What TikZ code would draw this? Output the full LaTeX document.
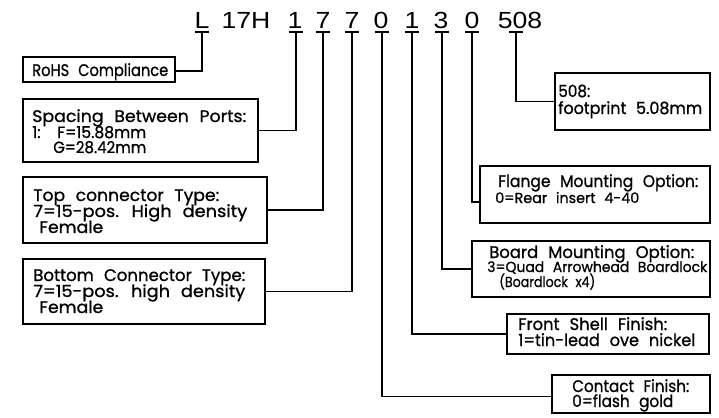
\documentclass[tikz,border=0pt]{standalone}
\usepackage{fontspec}
\usepackage{graphicx}
\setmainfont{Poppins}[WordSpace=2.3, FakeBold=0.9]
\newfontfamily\hdrfont{Liberation Sans}[FakeStretch=1.14]
\newcommand\fw[2]{\resizebox{\dimexpr 0.75pt*#1\relax}{\height}{#2}}
\begin{document}
\begin{tikzpicture}[x=0.75pt,y=-0.75pt,
  ln/.style={line width=1.6pt*0.75, line cap=rect},
  bx/.style={draw, line width=1.6pt*0.75, rectangle, inner sep=0pt, outer sep=0pt, anchor=north west},
  hd/.style={font=\hdrfont\fontsize{17.5pt}{20pt}\selectfont, anchor=base, inner sep=0pt},
  tx/.style={font=\fontsize{12.6pt}{15pt}\selectfont, anchor=base west, inner sep=0pt},
  md/.style={font=\fontsize{12.2pt}{14pt}\selectfont, anchor=base west, inner sep=0pt},
  sm/.style={font=\fontsize{10.9pt}{13pt}\selectfont, anchor=base west, inner sep=0pt}]
\useasboundingbox (0,0) rectangle (719,418);
% header
\node[hd] (hL) at (202,28) {L};
\node[hd] (h17) at (246,28) {17H};
\node[hd] (ha) at (295,28) {1};
\node[hd] (hb) at (323,28) {7};
\node[hd] (hc) at (352,28) {7};
\node[hd] (hd0) at (381,28) {0};
\node[hd] (he) at (412,28) {1};
\node[hd] (hf) at (441,28) {3};
\node[hd] (hg) at (472,28) {0};
\node[hd] (hh) at (520,28) {508};
% T tops
\coordinate (tL) at (202,32);
\coordinate (ta) at (296,32);
\coordinate (tb) at (323,32);
\coordinate (tc) at (352,32);
\coordinate (td) at (382,32);
\coordinate (te) at (412,32);
\coordinate (tf) at (442,32);
\coordinate (tg) at (472,32);
\coordinate (th) at (516,32);
\foreach \t in {tL,ta,tb,tc,td,te,tf,tg,th}{\draw[ln] ([xshift=-4.5pt]\t) -- ([xshift=4.5pt]\t);}
% boxes
\node[bx, minimum width=152*0.75pt, minimum height=25*0.75pt] (rohs) at (23,57) {};
\node[bx, minimum width=235*0.75pt, minimum height=63*0.75pt] (spacing) at (23,99) {};
\node[bx, minimum width=244*0.75pt, minimum height=66*0.75pt] (topc) at (23,177) {};
\node[bx, minimum width=242*0.75pt, minimum height=65*0.75pt] (botc) at (23,259) {};
\node[bx, minimum width=155*0.75pt, minimum height=57*0.75pt] (fp) at (555,73) {};
\node[bx, minimum width=230*0.75pt, minimum height=57*0.75pt] (flange) at (480,166) {};
\node[bx, minimum width=238*0.75pt, minimum height=56*0.75pt] (board) at (472,241) {};
\node[bx, minimum width=202*0.75pt, minimum height=40*0.75pt] (front) at (507,314) {};
\node[bx, minimum width=158*0.75pt, minimum height=38*0.75pt] (contact) at (552,375) {};
% texts
\node[tx] (r1) at (32,76) {\fw{136}{RoHS Compliance}};
\node[tx] (s1) at (32,122) {\fw{214}{Spacing Between Ports:}};
\node[md] (s2) at (32,138) {\fw{114}{1:\hspace{13pt}F=15.88mm}};
\node[md] (s3) at (53,153) {\fw{93}{G=28.42mm}};
\node[tx] (p1) at (33,201) {\fw{186}{Top connector Type:}};
\node[tx] (p2) at (33,217) {\fw{214}{7=15-pos. High density}};
\node[tx] (p3) at (39,233) {\fw{64}{Female}};
\node[tx] (q1) at (33,281) {\fw{212}{Bottom Connector Type:}};
\node[tx] (q2) at (33,297) {\fw{212}{7=15-pos. high density}};
\node[tx] (q3) at (39,313) {\fw{64}{Female}};
\node[tx] (f1) at (558,97) {\fw{32}{508:}};
\node[tx] (f2) at (558,114) {\fw{144}{footprint 5.08mm}};
\node[tx] (g1) at (498,187) {\fw{200}{Flange Mounting Option:}};
\node[sm] (g2) at (495,203) {\fw{144}{0=Rear insert 4-40}};
\node[tx] (b1) at (489,258) {\fw{205}{Board Mounting Option:}};
\node[sm] (b2) at (487,272) {\fw{220}{3=Quad Arrowhead Boardlock}};
\node[sm] (b3) at (499,287) {\fw{96}{(Boardlock x4)}};
\node[tx] (c1) at (518,330) {\fw{149}{Front Shell Finish:}};
\node[tx] (c2) at (518,346) {\fw{177}{1=tin-lead ove nickel}};
\node[tx] (k1) at (572,392) {\fw{117}{Contact Finish:}};
\node[tx] (k2) at (572,407) {\fw{101}{0=flash gold}};
% connectors
\draw[ln] (tL) |- ([yshift=-1pt]rohs.east);
\draw[ln] (ta) |- (spacing.east);
\draw[ln] (tb) |- (topc.east);
\draw[ln] (tc) |- (botc.east);
\draw[ln] (th) |- (fp.west);
\draw[ln] (tg) |- ([yshift=-5.5pt]flange.west);
\draw[ln] (tf) |- (board.west);
\draw[ln] (te) |- (front.west);
\draw[ln] (td) |- ([yshift=-2pt]contact.west);
\end{tikzpicture}
\end{document}
